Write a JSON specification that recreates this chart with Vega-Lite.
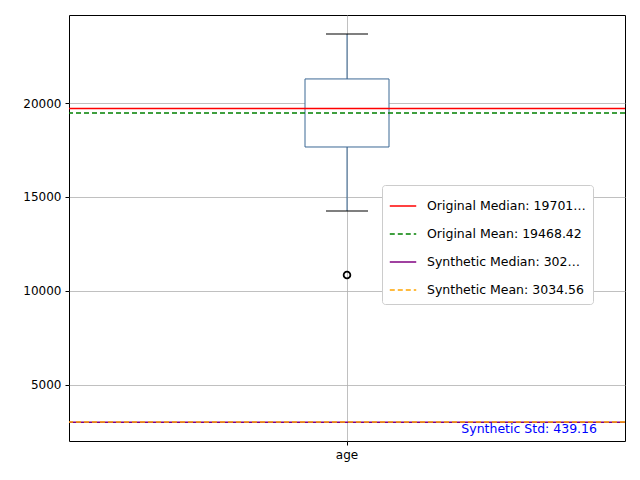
{
  "$schema": "https://vega.github.io/schema/vega-lite/v6.json",
  "width": 556, "height": 426,
  "padding": {"left": 69, "top": 15, "right": 15, "bottom": 39},
  "autosize": "none",
  "background": "white",
  "config": {
    "font": "DejaVu Sans",
    "view": {"stroke": "black", "strokeWidth": 1},
    "axis": {"domain": false, "gridColor": "#b0b0b0", "gridWidth": 0.8, "gridOpacity": 1, "labelFontSize": 12, "labelColor": "black", "tickColor": "black", "tickSize": 4, "labelPadding": 4, "title": null}
  },
  "datasets": {
    "box": [{"var": "age", "q1": 17660, "median": 19701.5, "q3": 21280, "lo": 14255, "hi": 23670}],
    "outliers": [{"var": "age", "value": 10851}],
    "lines": [
      {"label": "Original Median: 19701.50", "value": 19701.5},
      {"label": "Original Mean: 19468.42", "value": 19468.42},
      {"label": "Synthetic Median: 3022.00", "value": 3022.0},
      {"label": "Synthetic Mean: 3034.56", "value": 3034.56}
    ],
    "note": [{"var": "age", "value": 2660, "text": "Synthetic Std: 439.16"}]
  },
  "encoding": {
    "x": {"field": "var", "type": "nominal", "scale": {"paddingInner": 0, "paddingOuter": 0}, "axis": {"labelAngle": 0, "grid": true, "bandPosition": 0.5}}
  },
  "layer": [
    {
      "data": {"name": "box"},
      "mark": {"type": "rule", "color": "#3b6894"},
      "encoding": {"y": {"field": "lo", "type": "quantitative", "scale": {"domain": [2021, 24681], "nice": false, "zero": false}, "axis": {"grid": true, "values": [5000, 10000, 15000, 20000], "format": "d"}}, "y2": {"field": "hi"}}
    },
    {
      "data": {"name": "box"},
      "mark": {"type": "bar", "size": 84, "fill": "white", "stroke": "#3b6894", "strokeWidth": 1},
      "encoding": {"y": {"field": "q1", "type": "quantitative"}, "y2": {"field": "q3"}}
    },
    {
      "data": {"name": "box"},
      "mark": {"type": "tick", "size": 84, "thickness": 1, "color": "#2ca02c"},
      "encoding": {"y": {"field": "median", "type": "quantitative"}}
    },
    {
      "data": {"name": "box"},
      "mark": {"type": "tick", "size": 42, "thickness": 1.2, "color": "black", "opacity": 1},
      "encoding": {"y": {"field": "hi", "type": "quantitative"}}
    },
    {
      "data": {"name": "box"},
      "mark": {"type": "tick", "size": 42, "thickness": 1.2, "color": "black", "opacity": 1},
      "encoding": {"y": {"field": "lo", "type": "quantitative"}}
    },
    {
      "data": {"name": "outliers"},
      "mark": {"type": "point", "filled": false, "color": "black", "size": 45, "strokeWidth": 1.8, "opacity": 1},
      "encoding": {"y": {"field": "value", "type": "quantitative"}}
    },
    {
      "data": {"name": "lines"},
      "mark": {"type": "rule", "strokeWidth": 1.5},
      "encoding": {
        "x": null,
        "y": {"field": "value", "type": "quantitative"},
        "color": {"field": "label", "type": "nominal", "sort": null,
          "scale": {"domain": ["Original Median: 19701.50", "Original Mean: 19468.42", "Synthetic Median: 3022.00", "Synthetic Mean: 3034.56"], "range": ["red", "green", "purple", "orange"]},
          "legend": {"title": null, "orient": "none", "legendX": 313, "legendY": 170, "symbolType": "stroke", "symbolSize": 700, "symbolStrokeWidth": 1.5, "labelFontSize": 12.5, "labelColor": "black", "rowPadding": 7, "padding": 7, "labelOffset": 10, "fillColor": "white", "strokeColor": "#cccccc", "cornerRadius": 3}},
        "strokeDash": {"field": "label", "type": "nominal", "sort": null,
          "scale": {"domain": ["Original Median: 19701.50", "Original Mean: 19468.42", "Synthetic Median: 3022.00", "Synthetic Mean: 3034.56"], "range": [[1, 0], [5, 3], [1, 0], [5, 3]]},
          "legend": null}
      }
    },
    {
      "data": {"name": "note"},
      "mark": {"type": "text", "color": "blue", "fontSize": 12.5, "align": "right", "dx": 250},
      "encoding": {"y": {"field": "value", "type": "quantitative"}, "text": {"field": "text"}}
    }
  ]
}
